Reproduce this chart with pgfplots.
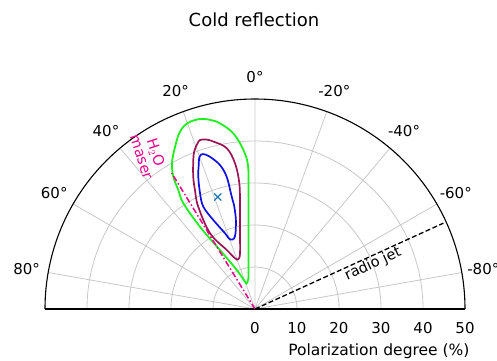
\documentclass[border=0pt]{standalone}
\usepackage{fontspec}
\setmainfont{DejaVu Sans}
\usepackage{pgfplots}
\pgfplotsset{compat=1.18}
\usepgfplotslibrary{polar}
\definecolor{cgreen}{RGB}{30,240,30}
\definecolor{cpurple}{RGB}{155,20,85}
\definecolor{cblue}{RGB}{15,15,225}
\definecolor{cmark}{RGB}{31,119,180}
\definecolor{cgrid}{RGB}{200,200,200}
\newcommand\ticksz{\fontsize{15}{18}\selectfont}
\begin{document}
\begin{tikzpicture}
\begin{polaraxis}[
  scale only axis, width=420pt, height=420pt,
  xmin=0, xmax=180, ymin=0, ymax=50,
  xtick={10,30,50,70,90,110,130,150,170},
  ytick={10,20,30,40},
  xticklabels={}, yticklabels={},
  grid=major,
  major grid style={cgrid, line width=0.8pt},
  axis line style={black, line width=1.1pt},
  major tick length=0pt,
  clip=false,
]
% green contour
\addplot[cgreen, line width=1.8pt, smooth, tension=0.6] coordinates {
(94.2,21.2) (93.1,28.4) (92.8,34.3) (94.2,38.0) (97.0,42.1) (100.7,45.0)
(103.4,46.3) (106.1,47.1) (109.8,47.1) (113.0,45.8) (116.3,43.0) (119.6,40.0)
(121.7,37.0) (122.8,33.7) (124.1,30.5) (123.8,23.6) (120.7,16.3)
(115.1,10.3) (110.1,6.9) (107.9,6.4) (103.6,7.1) (100.8,8.2) (96.3,14.1) (94.2,21.2)};
% purple contour
\addplot[cpurple, line width=1.7pt, smooth, tension=0.6] coordinates {
(98.1,25.4) (97.1,30.2) (97.8,35.0) (100.0,38.9) (104.0,41.1) (106.1,42.0)
(108.0,42.3) (109.2,41.7) (111.0,40.3) (112.5,38.4) (115.0,34.8) (116.8,31.7)
(119.0,27.9) (120.7,21.0) (115.6,15.6) (111.5,13.0) (108.6,12.5) (105.1,13.7)
(101.2,18.4) (98.1,25.4)};
% blue contour
\addplot[cblue, line width=1.7pt, smooth, tension=0.6] coordinates {
(101.4,25.3) (101.7,27.3) (102.1,32.2) (103.7,35.3) (106.5,37.8) (108.5,38.9)
(110.0,38.6) (111.5,36.6) (113.2,34.3) (115.4,30.5) (116.8,27.3) (115.1,23.4)
(111.6,19.4) (109.7,17.6) (105.5,17.9) (102.1,21.7) (101.4,25.3)};
% H2O maser direction
\addplot[magenta, line width=1.5pt, dash pattern=on 6pt off 2.5pt on 1.5pt off 2.5pt] coordinates {(121.5,0) (121.5,38)};
% radio jet
\addplot[black, line width=1.3pt, dash pattern=on 5pt off 2.5pt] coordinates {(24.5,0) (24.5,49.3)};
% peak marker
\addplot[cmark, only marks, mark=x, mark size=5pt, line width=1.3pt] coordinates {(108.4,28.1)};

\node[rotate=24.5, anchor=north, inner sep=1pt, font=\fontsize{14.5}{17}\selectfont] at (axis cs:24.5,30) {radio jet};
\node[rotate=-72, align=center, inner sep=0pt, text=magenta, font=\fontsize{14.5}{15}\selectfont] at (axis cs:124.5,44.6) {H$_2$O\\maser};

\coordinate (C) at (axis cs:0,0);
\node[font=\ticksz] at (axis cs:10,55.2) {-80°};
\node[font=\ticksz] at (axis cs:30,55.2) {-60°};
\node[font=\ticksz] at (axis cs:50,55.2) {-40°};
\node[font=\ticksz] at (axis cs:70,55.2) {-20°};
\node[font=\ticksz] at (axis cs:90,55.2) {0°};
\node[font=\ticksz] at (axis cs:110,55.2) {20°};
\node[font=\ticksz] at (axis cs:130,55.2) {40°};
\node[font=\ticksz] at (axis cs:150,55.2) {60°};
\node[font=\ticksz] at (axis cs:170,55.2) {80°};
\pgfplotsinvokeforeach{0,10,20,30,40,50}{
  \node[font=\ticksz, yshift=-19pt] at (axis cs:0,#1) {#1};
}
\node[font=\fontsize{15.5}{18}\selectfont, yshift=-42pt] at (axis cs:0,29.5) {Polarization degree (\%)};
\end{polaraxis}
\pgfresetboundingbox
\path[use as bounding box] (C) ++(-255pt,-51pt) rectangle ++(497pt,360pt);
\path (C) ++(-1pt,289pt) node[font=\fontsize{18}{21}\selectfont] {Cold reflection};
\end{tikzpicture}
\end{document}
